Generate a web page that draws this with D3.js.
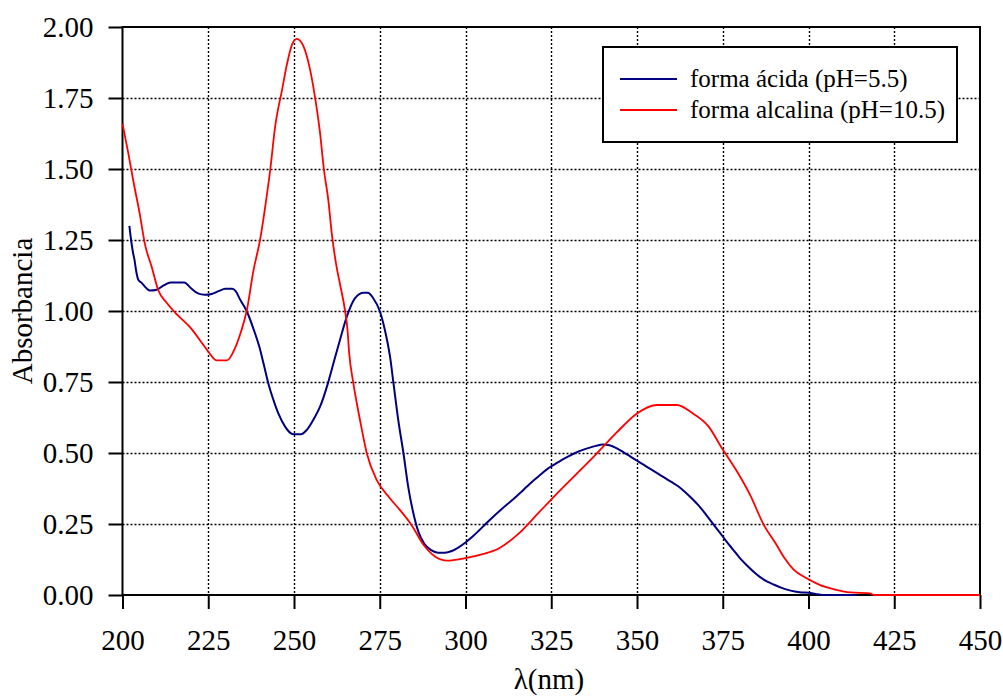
<!DOCTYPE html>
<html>
<head>
<meta charset="utf-8">
<script src="https://cdn.jsdelivr.net/npm/d3@7"></script>
<style>
  html, body { margin: 0; padding: 0; background: #fff; }
  svg { display: block; }
  text { font-family: "Liberation Serif", "Times New Roman", serif; fill: #000; }
</style>
</head>
<body>
<svg id="chart" width="1003" height="696"></svg>
<script>
// Wavelength (nm) and absorbance of the acid form (pH 5.5)
const acidWavelength = [202, 202.5, 203, 203.5, 204, 204.6, 205.5, 207, 208, 210, 212, 214, 216, 218, 220, 222, 224, 226, 228, 230, 232, 233, 234.3, 236.2, 238.3, 239.9, 241.1, 242.5, 244, 245.4, 247.4, 249, 250, 252, 253.7, 256, 257.6, 259.9, 261.5, 263.4, 265.4, 267.8, 270.3, 271.5, 273.1, 275, 276.5, 278, 279, 280.4, 281.9, 283.3, 284.8, 286.2, 288, 290, 292, 294, 296, 298, 300, 302, 304, 306, 308, 310, 312, 314, 316, 318, 320, 322, 324, 326, 328, 330, 332, 334, 336, 338, 340, 342, 344, 346, 348, 350, 352, 354, 356, 358, 360, 362, 364, 366, 368, 370, 372, 374, 376, 378, 380, 382, 384, 386, 388, 390, 392, 394, 396, 398, 400, 402, 404, 414];
const acidAbsorbance = [1.30, 1.25, 1.21, 1.18, 1.14, 1.11, 1.10, 1.08, 1.072, 1.075, 1.09, 1.10, 1.10, 1.10, 1.08, 1.062, 1.057, 1.06, 1.07, 1.078, 1.078, 1.07, 1.04, 1.0, 0.933, 0.874, 0.816, 0.746, 0.687, 0.64, 0.593, 0.57, 0.566, 0.566, 0.581, 0.625, 0.663, 0.746, 0.816, 0.898, 0.98, 1.045, 1.064, 1.064, 1.045, 1.0, 0.933, 0.839, 0.746, 0.616, 0.5, 0.381, 0.288, 0.225, 0.18, 0.158, 0.149, 0.149, 0.155, 0.168, 0.185, 0.205, 0.228, 0.252, 0.275, 0.297, 0.318, 0.338, 0.36, 0.383, 0.405, 0.425, 0.445, 0.46, 0.475, 0.488, 0.50, 0.51, 0.518, 0.525, 0.53, 0.527, 0.517, 0.503, 0.488, 0.473, 0.458, 0.443, 0.428, 0.413, 0.398, 0.383, 0.363, 0.34, 0.315, 0.285, 0.253, 0.222, 0.19, 0.16, 0.13, 0.105, 0.082, 0.062, 0.047, 0.036, 0.026, 0.018, 0.012, 0.009, 0.008, 0.004, 0.0, 0.0];

// Wavelength (nm) and absorbance of the alkaline form (pH 10.5)
const alkWavelength = [200, 201.7, 203.2, 205, 206.6, 208.5, 210.4, 213, 216, 220, 223.6, 225, 227.5, 230.5, 232.8, 234.7, 236.2, 238.2, 240.1, 241.6, 243.1, 244.5, 246.5, 248, 249.4, 250.8, 252.8, 254.7, 256.1, 257.6, 258.7, 260, 261, 262.4, 263.4, 264.9, 265.6, 266.1, 267.3, 268.3, 269.5, 271.2, 274.1, 278, 280.9, 284.3, 287.8, 291.2, 294.7, 299.6, 305, 309.7, 315.4, 321.2, 324.9, 331.6, 337.4, 344.3, 350.1, 355.8, 361.6, 366.2, 370.9, 374.5, 378.9, 383, 387, 390.4, 393, 395.6, 399.6, 403.4, 407.2, 412.2, 418, 419, 450];
const alkAbsorbance = [1.66, 1.555, 1.455, 1.344, 1.232, 1.156, 1.074, 1.027, 0.986, 0.939, 0.88, 0.857, 0.826, 0.826, 0.869, 0.933, 1.0, 1.144, 1.25, 1.367, 1.5, 1.649, 1.778, 1.872, 1.937, 1.958, 1.931, 1.849, 1.755, 1.626, 1.5, 1.391, 1.274, 1.156, 1.095, 1.0, 0.933, 0.85, 0.746, 0.676, 0.6, 0.5, 0.405, 0.34, 0.299, 0.246, 0.176, 0.135, 0.121, 0.129, 0.144, 0.164, 0.215, 0.288, 0.335, 0.417, 0.487, 0.575, 0.64, 0.669, 0.669, 0.64, 0.593, 0.522, 0.44, 0.352, 0.246, 0.182, 0.13, 0.09, 0.058, 0.035, 0.021, 0.009, 0.006, 0.0, 0.0];

const xTicks = [200, 225, 250, 275, 300, 325, 350, 375, 400, 425, 450];
const yTicks = [0, 0.25, 0.5, 0.75, 1.0, 1.25, 1.5, 1.75, 2.0];
const seriesNames = ["forma ácida (pH=5.5)", "forma alcalina (pH=10.5)"];
const seriesColors = ["#000080", "#ff0000"];

const plot = { left: 122.5, right: 980, top: 27, bottom: 595 };
const svg = d3.select("#chart");

const x = d3.scaleLinear().domain([200, 450]).range([plot.left, plot.right]);
const y = d3.scaleLinear().domain([0, 2]).range([plot.bottom, plot.top]);

// Dotted grid
const grid = svg.append("g").attr("stroke", "#000").attr("stroke-width", 1.4)
  .attr("stroke-dasharray", "2,2");
grid.selectAll("line.v").data(xTicks.slice(1, -1)).join("line")
  .attr("x1", d => Math.round(x(d)) + 0.5).attr("x2", d => Math.round(x(d)) + 0.5)
  .attr("y1", plot.top).attr("y2", plot.bottom);
grid.selectAll("line.h").data(yTicks.slice(1, -1)).join("line")
  .attr("y1", d => Math.round(y(d)) + 0.5).attr("y2", d => Math.round(y(d)) + 0.5)
  .attr("x1", plot.left).attr("x2", plot.right);

// Frame
svg.append("rect")
  .attr("x", plot.left).attr("y", plot.top)
  .attr("width", plot.right - plot.left).attr("height", plot.bottom - plot.top)
  .attr("fill", "none").attr("stroke", "#000").attr("stroke-width", 2);

// Axes
const xAxis = d3.axisBottom(x).tickValues(xTicks).tickFormat(d3.format("d"))
  .tickSize(14).tickPadding(14);
const gx = svg.append("g").attr("transform", `translate(0,${plot.bottom})`).call(xAxis);
const yAxis = d3.axisLeft(y).tickValues(yTicks).tickFormat(d3.format(".2f"))
  .tickSize(14).tickPadding(15);
const gy = svg.append("g").attr("transform", `translate(${plot.left},0)`).call(yAxis);

[gx, gy].forEach(g => {
  g.select(".domain").remove();
  g.selectAll(".tick line").attr("stroke", "#000").attr("stroke-width", 2);
  g.selectAll(".tick text").style("font-family", "'Liberation Serif', serif")
    .style("font-size", "29px").attr("fill", "#000");
});
gx.selectAll(".tick text").attr("y", 55).attr("dy", null);
gy.selectAll(".tick text").attr("dy", "0.34em");

// Curves, drawn above the frame so the zero-absorbance tails stay visible
const acid = acidWavelength.map((w, i) => [w, acidAbsorbance[i]]);
const alk = alkWavelength.map((w, i) => [w, alkAbsorbance[i]]);
const line = d3.line().x(d => x(d[0])).y(d => y(d[1])).curve(d3.curveMonotoneX);

svg.append("path").datum(acid).attr("d", line)
  .attr("fill", "none").attr("stroke", seriesColors[0]).attr("stroke-width", 2);
svg.append("path").datum(alk).attr("d", line)
  .attr("fill", "none").attr("stroke", seriesColors[1]).attr("stroke-width", 1.8);

// Axis titles
svg.append("text")
  .attr("x", 549).attr("y", 689)
  .attr("text-anchor", "middle").style("font-size", "29px")
  .text("λ(nm)");
svg.append("text")
  .attr("transform", `translate(32,${(plot.top + plot.bottom) / 2}) rotate(-90)`)
  .attr("text-anchor", "middle").style("font-size", "29px")
  .text("Absorbancia");

// Legend
const legend = svg.append("g");
legend.append("rect")
  .attr("x", 603).attr("y", 47).attr("width", 354).attr("height", 95)
  .attr("fill", "#fff").attr("stroke", "#000").attr("stroke-width", 2);
const rows = legend.selectAll("g.row").data(seriesNames).join("g")
  .attr("transform", (d, i) => `translate(620,${79 + i * 31})`);
rows.append("line").attr("x1", 0).attr("x2", 57).attr("y1", 0).attr("y2", 0)
  .attr("stroke", (d, i) => seriesColors[i]).attr("stroke-width", 2);
rows.append("text").attr("x", 70).attr("y", 0).attr("dy", "0.33em")
  .style("font-size", "25px").text(d => d);
</script>
</body>
</html>
